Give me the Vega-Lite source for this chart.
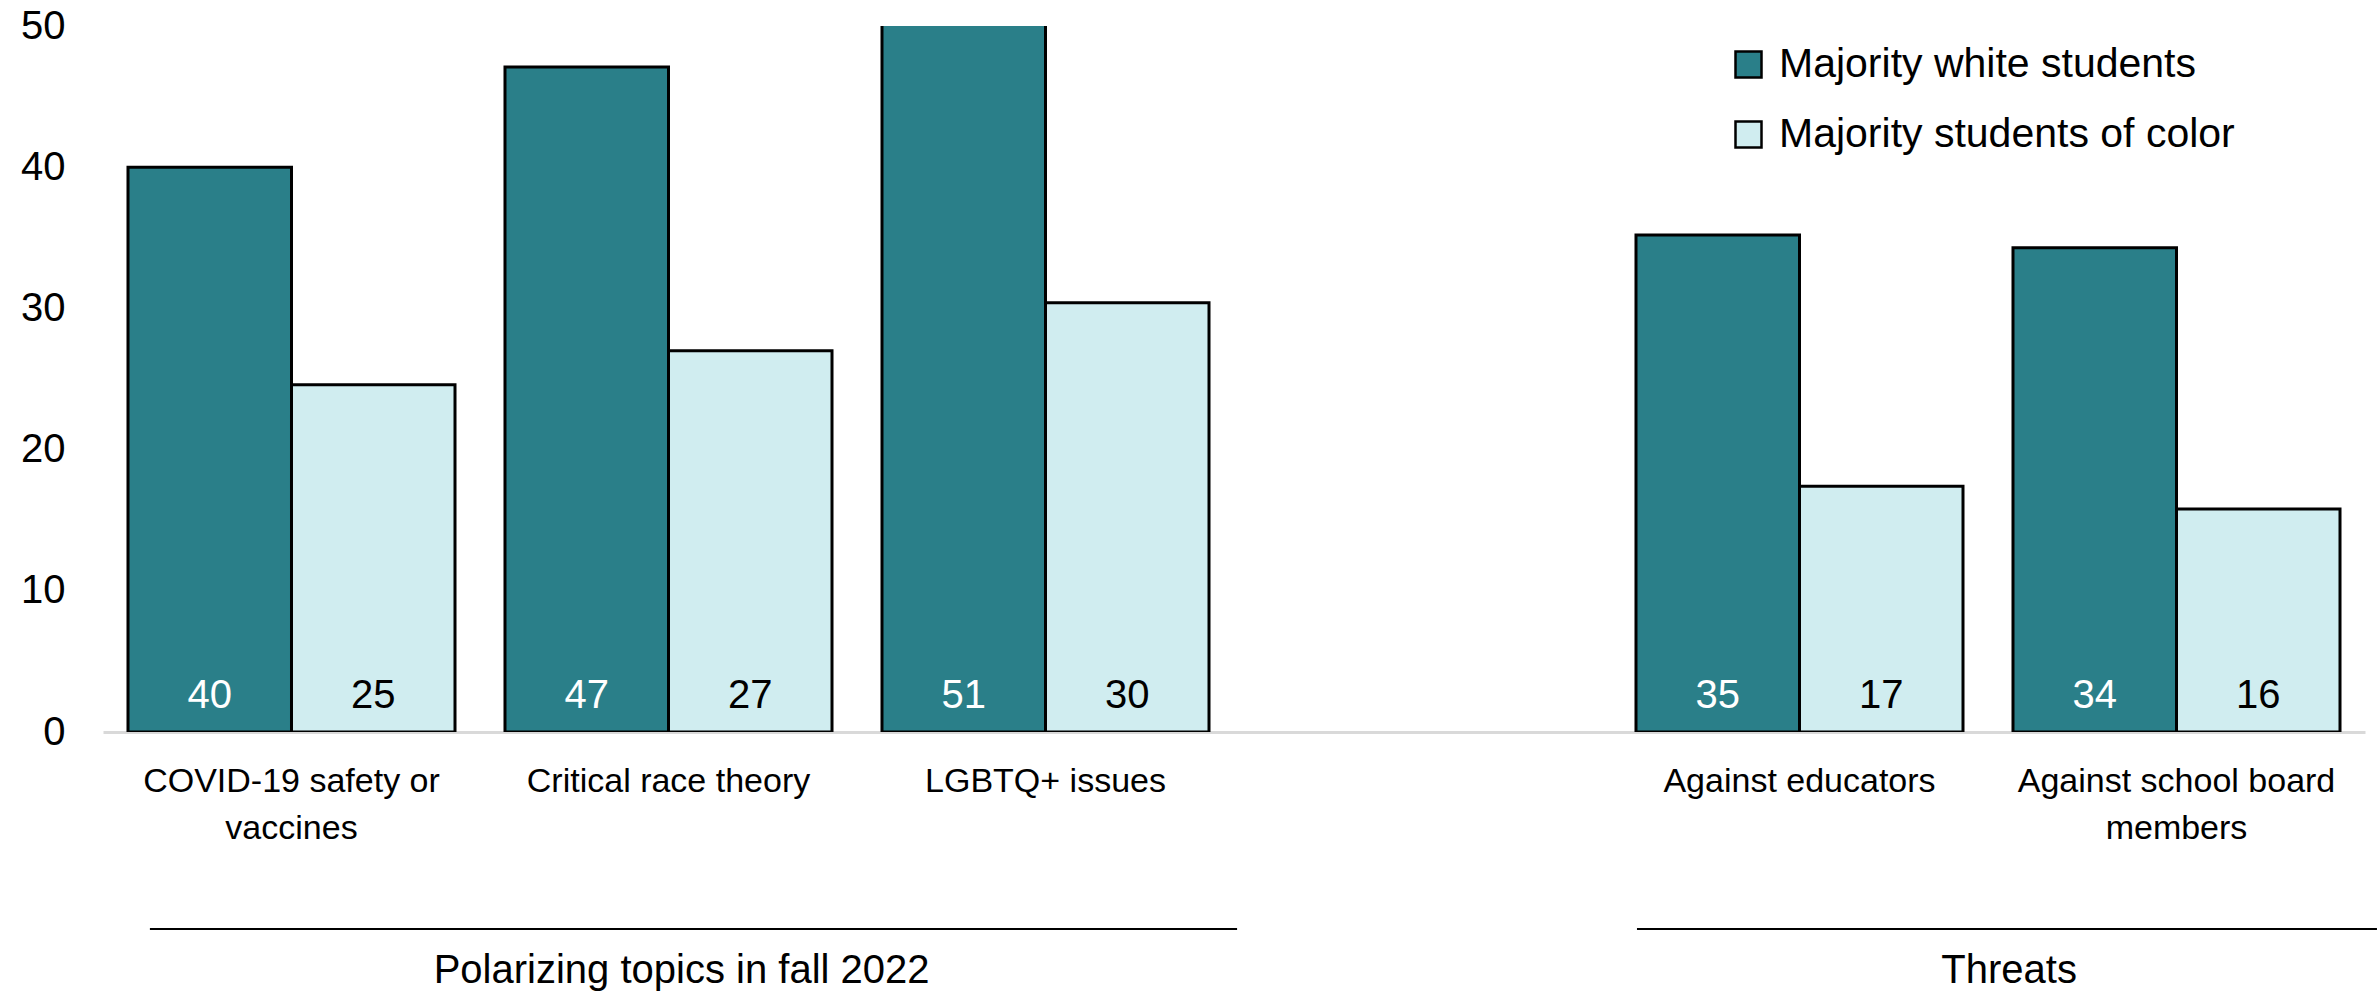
{
  "$schema": "https://vega.github.io/schema/vega-lite/v6.json",
  "width": 2262,
  "height": 706,
  "autosize": {"type": "none"},
  "padding": {"left": 103, "top": 26, "right": 12, "bottom": 260},
  "background": "white",
  "config": {"view": {"stroke": null}, "font": "Liberation Sans"},
  "datasets": {
    "bars": [
      {"topic": "COVID-19 safety or|vaccines", "school": "Majority white students", "pct": 40},
      {"topic": "COVID-19 safety or|vaccines", "school": "Majority students of color", "pct": 24.6},
      {"topic": "Critical race theory", "school": "Majority white students", "pct": 47.1},
      {"topic": "Critical race theory", "school": "Majority students of color", "pct": 27},
      {"topic": "LGBTQ+ issues", "school": "Majority white students", "pct": 51},
      {"topic": "LGBTQ+ issues", "school": "Majority students of color", "pct": 30.4},
      {"topic": "Against educators", "school": "Majority white students", "pct": 35.2},
      {"topic": "Against educators", "school": "Majority students of color", "pct": 17.4},
      {"topic": "Against school board|members", "school": "Majority white students", "pct": 34.3},
      {"topic": "Against school board|members", "school": "Majority students of color", "pct": 15.8}
    ],
    "groupLeft": [{"group": "Polarizing topics in fall 2022", "from": "COVID-19 safety or|vaccines", "to": "gap", "at": "Critical race theory"}],
    "groupRight": [{"group": "Threats", "from": "Against educators", "to": "Against school board|members", "at": "Against school board|members"}]
  },
  "layer": [
    {
      "data": {"name": "bars"},
      "mark": {"type": "bar", "stroke": "black", "strokeWidth": 3, "clip": true},
      "encoding": {
        "x": {
          "field": "topic", "type": "nominal",
          "scale": {"domain": ["COVID-19 safety or|vaccines", "Critical race theory", "LGBTQ+ issues", "gap", "Against educators", "Against school board|members"], "paddingInner": 0.1326, "paddingOuter": 0.0663},
          "axis": {
            "title": null, "labelAngle": 0, "labelAlign": "center", "labelBaseline": "top",
            "ticks": false, "labelPadding": 32, "labelFontSize": 34, "labelColor": "black",
            "labelLineHeight": 47, "labelLimit": 600,
            "labelExpr": "datum.value == 'gap' ? '' : split(datum.value, '|')",
            "domainColor": "#d9d9d9", "domainWidth": 3
          }
        },
        "xOffset": {"field": "school", "type": "nominal", "scale": {"domain": ["Majority white students", "Majority students of color"], "paddingInner": 0, "paddingOuter": 0}},
        "y": {
          "field": "pct", "type": "quantitative",
          "scale": {"domain": [0, 50], "nice": false},
          "axis": {"title": null, "domain": false, "ticks": false, "grid": false, "values": [0, 10, 20, 30, 40, 50], "labelFontSize": 40, "labelColor": "black", "labelPadding": 38}
        },
        "color": {
          "field": "school", "type": "nominal",
          "scale": {"domain": ["Majority white students", "Majority students of color"], "range": ["#2a7f89", "#d0edf0"]},
          "legend": {
            "orient": "none", "legendX": 1625, "legendY": 18, "title": null,
            "symbolType": "square", "symbolSize": 676, "symbolStrokeColor": "black", "symbolStrokeWidth": 2.5,
            "labelFontSize": 41, "labelColor": "black", "rowPadding": 28, "labelOffset": 10, "labelLimit": 800
          }
        }
      }
    },
    {
      "data": {"name": "bars"},
      "mark": {"type": "text", "baseline": "alphabetic", "dy": -24, "fontSize": 40},
      "encoding": {
        "x": {"field": "topic", "type": "nominal", "title": null},
        "xOffset": {"field": "school", "type": "nominal"},
        "y": {"datum": 0},
        "text": {"field": "pct", "type": "quantitative", "format": ".0f"},
        "color": {"condition": {"test": "datum.school === 'Majority white students'", "value": "white"}, "value": "black"}
      }
    },
    {
      "data": {"name": "groupLeft"},
      "mark": {"type": "rule", "color": "black", "strokeWidth": 2, "yOffset": 197},
      "encoding": {
        "x": {"field": "from", "type": "nominal", "bandPosition": 0.067, "title": null},
        "x2": {"field": "to", "bandPosition": -0.067},
        "y": {"datum": 0}
      }
    },
    {
      "data": {"name": "groupRight"},
      "mark": {"type": "rule", "color": "black", "strokeWidth": 2, "yOffset": 197},
      "encoding": {
        "x": {"field": "from", "type": "nominal", "bandPosition": 0.003, "title": null},
        "x2": {"field": "to", "bandPosition": 1.113},
        "y": {"datum": 0}
      }
    },
    {
      "data": {"name": "groupLeft"},
      "mark": {"type": "text", "baseline": "middle", "dy": 239, "fontSize": 40, "color": "black"},
      "encoding": {
        "x": {"field": "at", "type": "nominal", "bandPosition": 0.54, "title": null},
        "y": {"datum": 0},
        "text": {"field": "group"}
      }
    },
    {
      "data": {"name": "groupRight"},
      "mark": {"type": "text", "baseline": "middle", "dy": 239, "fontSize": 40, "color": "black"},
      "encoding": {
        "x": {"field": "at", "type": "nominal", "bandPosition": -0.012, "title": null},
        "y": {"datum": 0},
        "text": {"field": "group"}
      }
    }
  ]
}
